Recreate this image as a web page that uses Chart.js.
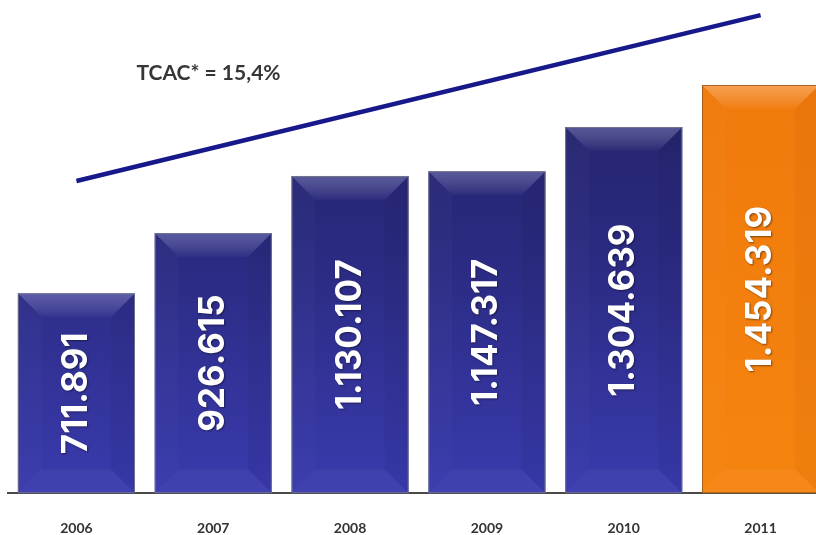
<!DOCTYPE html>
<html>
<head>
<meta charset="utf-8">
<script src="https://cdn.jsdelivr.net/npm/chart.js@4/dist/chart.umd.min.js"></script>
<style>
  html, body { margin: 0; padding: 0; background: #ffffff; overflow: hidden; width: 816px; height: 535px; }
  #wrap { position: relative; width: 830px; height: 564px; }
  canvas { display: block; }
</style>
</head>
<body>
<div id="wrap"><canvas id="chart" width="830" height="564"></canvas></div>
<script>
// Annual volume, 2006-2011
const years = ['2006', '2007', '2008', '2009', '2010', '2011'];
const volumes = [711891, 926615, 1130107, 1147317, 1304639, 1454319];
const valueLabels = ['711.891', '926.615', '1.130.107', '1.147.317', '1.304.639', '1.454.319'];
// Growth arrow drawn above the bars (start and end only)
const trendLine = [1112000, null, null, null, null, 1703000];
const growthLabel = 'TCAC* = 15,4%';

const HIGHLIGHT_INDEX = 5;
const LABEL_FONT = 'Inter, Lato, "Open Sans", sans-serif';

function barFill(context) {
  const chart = context.chart;
  const area = chart.chartArea;
  if (!area) return '#2c2c85';
  const el = context.element;
  const top = el && isFinite(el.y) ? el.y : area.top;
  const bottom = el && isFinite(el.base) ? el.base : area.bottom;
  const g = chart.ctx.createLinearGradient(0, top, 0, bottom);
  if (context.dataIndex === HIGHLIGHT_INDEX) {
    g.addColorStop(0, '#ef780c');
    g.addColorStop(1, '#f5840f');
  } else {
    g.addColorStop(0, '#212160');
    g.addColorStop(0.5, '#2a2a80');
    g.addColorStop(1, '#3a3aae');
  }
  return g;
}

// Bevelled edges and rotated value labels on each bar
const bevelPlugin = {
  id: 'bevel',
  afterDatasetsDraw(chart) {
    const ctx = chart.ctx;
    const meta = chart.getDatasetMeta(0);
    meta.data.forEach((bar, i) => {
      const p = bar.getProps(['x', 'y', 'base', 'width'], true);
      const l = p.x - p.width / 2, r = p.x + p.width / 2;
      const t = p.y, b = p.base;
      const d = 24;
      const orange = i === HIGHLIGHT_INDEX;
      ctx.save();
      // top face
      let g = ctx.createLinearGradient(0, t, 0, t + d);
      g.addColorStop(0, orange ? 'rgba(255,230,200,0.35)' : 'rgba(190,190,230,0.32)');
      g.addColorStop(1, 'rgba(255,255,255,0.02)');
      ctx.fillStyle = g;
      ctx.beginPath();
      ctx.moveTo(l, t); ctx.lineTo(r, t); ctx.lineTo(r - d, t + d); ctx.lineTo(l + d, t + d);
      ctx.closePath(); ctx.fill();
      // left face
      ctx.fillStyle = 'rgba(255,255,255,0.02)';
      ctx.beginPath();
      ctx.moveTo(l, t); ctx.lineTo(l + d, t + d); ctx.lineTo(l + d, b - d); ctx.lineTo(l, b);
      ctx.closePath(); ctx.fill();
      // right face
      ctx.fillStyle = orange ? 'rgba(120,40,0,0.05)' : 'rgba(0,0,0,0.04)';
      ctx.beginPath();
      ctx.moveTo(r, t); ctx.lineTo(r - d, t + d); ctx.lineTo(r - d, b - d); ctx.lineTo(r, b);
      ctx.closePath(); ctx.fill();
      // bottom face
      ctx.fillStyle = 'rgba(255,255,255,0.04)';
      ctx.beginPath();
      ctx.moveTo(l, b); ctx.lineTo(r, b); ctx.lineTo(r - d, b - d); ctx.lineTo(l + d, b - d);
      ctx.closePath(); ctx.fill();
      // outline
      ctx.strokeStyle = orange ? 'rgba(140,80,30,0.75)' : 'rgba(120,120,140,0.85)';
      ctx.lineWidth = 1;
      ctx.strokeRect(l + 0.5, t + 0.5, p.width - 1, b - t - 1);
      // value label
      ctx.translate(p.x, (t + b) / 2);
      ctx.rotate(-Math.PI / 2);
      ctx.font = 'bold 35px ' + LABEL_FONT;
      ctx.textAlign = 'center';
      ctx.textBaseline = 'middle';
      ctx.shadowColor = 'rgba(0,0,0,0.45)';
      ctx.shadowBlur = 2;
      ctx.shadowOffsetX = 1;
      ctx.shadowOffsetY = 1;
      ctx.fillStyle = '#ffffff';
      ctx.fillText(valueLabels[i], 0, 0);
      ctx.restore();
    });
    // growth label
    const xs = chart.scales.x, ys = chart.scales.y;
    ctx.save();
    ctx.font = 'bold 21px Lato, "Open Sans", sans-serif';
    ctx.fillStyle = '#363636';
    ctx.textAlign = 'left';
    ctx.textBaseline = 'middle';
    ctx.fillText(growthLabel, xs.getPixelForValue(0) + 60, ys.getPixelForValue(1495000));
    ctx.restore();
  }
};

new Chart(document.getElementById('chart'), {
  data: {
    labels: years,
    datasets: [
      {
        type: 'bar',
        data: volumes,
        backgroundColor: barFill,
        borderWidth: 0,
        barPercentage: 0.856,
        categoryPercentage: 1,
        order: 2
      },
      {
        type: 'line',
        data: trendLine,
        spanGaps: true,
        borderColor: '#17188a',
        borderWidth: 4.5,
        borderCapStyle: 'butt',
        pointRadius: 0,
        fill: false,
        order: 1
      }
    ]
  },
  options: {
    responsive: false,
    animation: false,
    devicePixelRatio: 1,
    layout: { padding: { left: 8, right: 1, top: 0, bottom: 0 } },
    plugins: { legend: { display: false }, tooltip: { enabled: false } },
    scales: {
      x: {
        grid: { display: false, drawTicks: false },
        border: { display: true, color: '#4a4a4a', width: 2 },
        ticks: { padding: 27, color: '#333333', font: { family: 'Lato, "Open Sans", sans-serif', weight: 'bold', size: 14 } }
      },
      y: { display: false, min: 0, max: 1757000 }
    }
  },
  plugins: [bevelPlugin]
});
</script>
</body>
</html>
